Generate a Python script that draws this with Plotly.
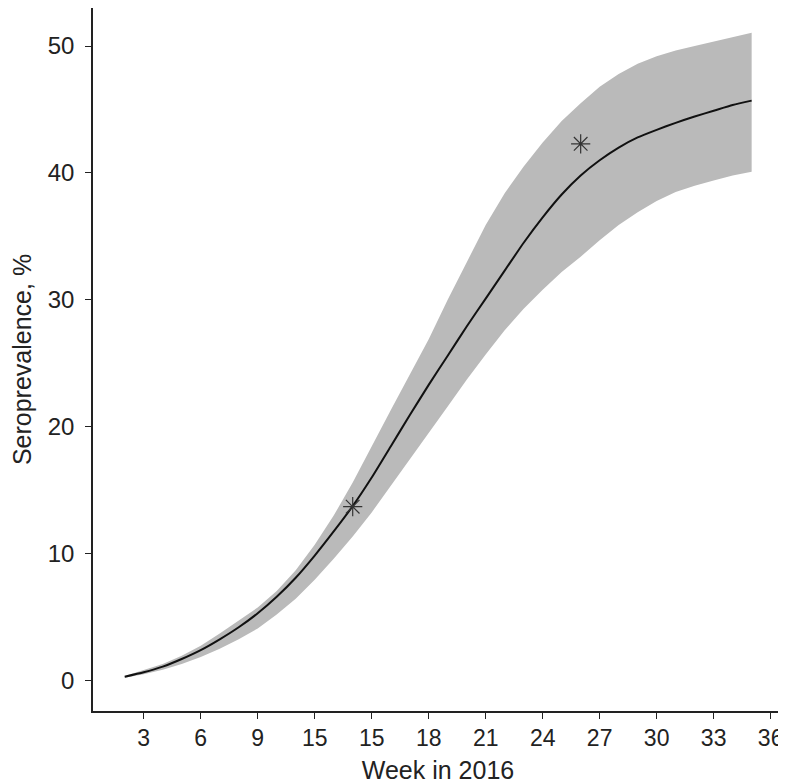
"""Seroprevalence curve with uncertainty band and observed survey points."""

import plotly.graph_objects as go

# ── Data ──────────────────────────────────────────────────────────────────────

weeks = list(range(2, 36))
median = [0.3, 0.65, 1.1, 1.7, 2.4, 3.25, 4.2, 5.3, 6.6, 8.1,
          9.85, 11.75, 13.75, 16.0, 18.45, 20.9, 23.3, 25.6, 27.9, 30.1,
          32.3, 34.5, 36.5, 38.3, 39.8, 41.0, 42.0, 42.8, 43.4, 43.95,
          44.45, 44.9, 45.35, 45.7]
upper = [0.35, 0.8, 1.3, 1.95, 2.75, 3.7, 4.7, 5.75, 7.05, 8.7,
         10.7, 13.0, 15.6, 18.5, 21.3, 24.1, 26.9, 30.0, 33.0, 35.9,
         38.4, 40.5, 42.4, 44.1, 45.5, 46.8, 47.8, 48.6, 49.2, 49.65,
         50.0, 50.35, 50.7, 51.05]
lower = [0.22, 0.5, 0.85, 1.3, 1.85, 2.5, 3.25, 4.1, 5.2, 6.45,
         7.95, 9.6, 11.35, 13.25, 15.3, 17.4, 19.5, 21.6, 23.7, 25.7,
         27.6, 29.3, 30.8, 32.2, 33.4, 34.7, 35.9, 36.9, 37.8, 38.5,
         39.0, 39.4, 39.8, 40.1]

obs_weeks = [14, 26]
obs_values = [13.7, 42.3]

x_tickvals = [3, 6, 9, 12, 15, 18, 21, 24, 27, 30, 33, 36]
x_ticktext = ["3", "6", "9", "15", "15", "18", "21", "24", "27", "30", "33", "36"]
y_tickvals = [0, 10, 20, 30, 40, 50]

FONT = "Arial, 'Liberation Sans', sans-serif"
INK = "#222222"

fig = go.Figure()

# band: upper then lower reversed
fig.add_trace(go.Scatter(
    x=weeks + weeks[::-1],
    y=upper + lower[::-1],
    fill="toself", fillcolor="#bababa",
    line=dict(width=0), mode="lines",
    hoverinfo="skip", showlegend=False,
))
fig.add_trace(go.Scatter(
    x=weeks, y=median, mode="lines",
    line=dict(color="#111111", width=2, shape="spline", smoothing=0.6),
    showlegend=False,
))
fig.add_trace(go.Scatter(
    x=obs_weeks, y=obs_values, mode="markers",
    marker=dict(symbol="asterisk-open", size=16, color="#333333",
                line=dict(color="#333333", width=1.2)),
    showlegend=False,
))

# page body adds an 8px margin, so the figure is a little smaller than the window
fig.update_layout(
    width=778, height=776,
    paper_bgcolor="white", plot_bgcolor="white",
    margin=dict(l=85, r=3, t=0, b=73),
    font=dict(family=FONT, size=24, color=INK),
)
fig.update_xaxes(
    range=[0.33, 36.65],
    tickvals=x_tickvals, ticktext=x_ticktext,
    ticks="outside", ticklen=6, tickwidth=1.2, tickcolor=INK,
    showline=True, linecolor=INK, linewidth=1.5,
    showgrid=False, zeroline=False,
    tickfont=dict(size=23, color=INK),
    title=dict(text="Week in 2016", font=dict(size=25, color=INK), standoff=14),
    automargin=False,
)
fig.update_yaxes(
    range=[-2.4, 53.0],
    tickvals=y_tickvals,
    ticks="outside", ticklen=6, tickwidth=1.2, tickcolor=INK,
    ticklabelstandoff=6,
    showline=True, linecolor=INK, linewidth=1.5,
    showgrid=False, zeroline=False,
    tickfont=dict(size=24, color=INK),
    title=dict(text="Seroprevalence, %", font=dict(size=25, color=INK), standoff=14),
    automargin=False,
)

fig.write_html("out.html")
